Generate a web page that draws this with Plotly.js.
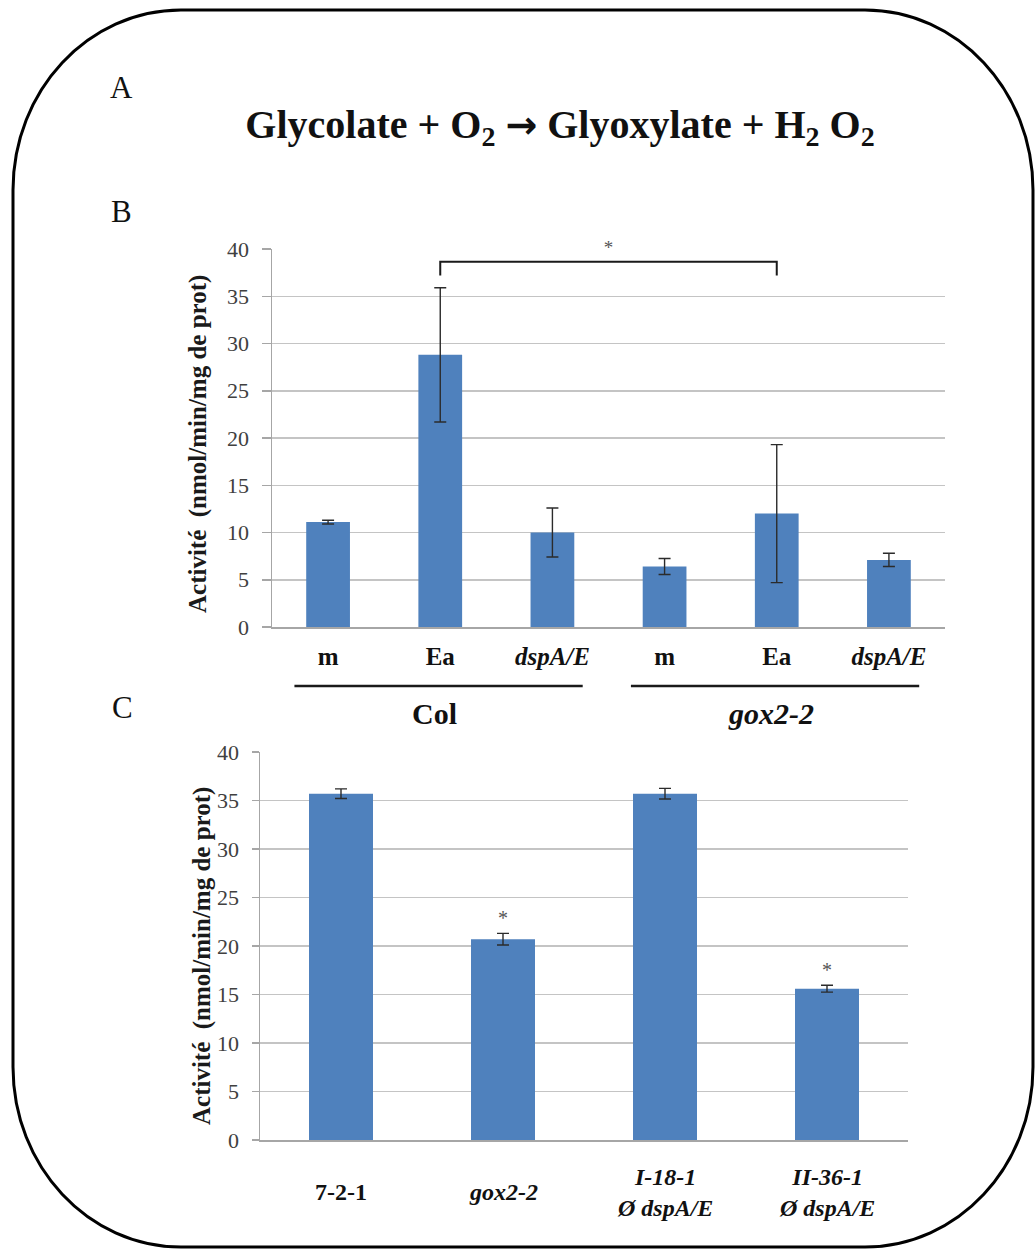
<!DOCTYPE html>
<html><head><meta charset="utf-8">
<script src="https://cdn.plot.ly/plotly-3.0.1.min.js"></script>
<style>html,body{margin:0;padding:0;background:#fff}</style>
</head><body><div id="chart" style="width:1036px;height:1249px"></div>
<script>
// ---------- DATA ----------
// Panel B
const bCategories = ['m', 'Ea', 'dspA/E', 'm', 'Ea', 'dspA/E'];
const bTickText = ['m', 'Ea', '<i>dspA/E</i>', 'm', 'Ea', '<i>dspA/E</i>'];
const bValues = [11.1, 28.8, 10.0, 6.4, 12.0, 7.1];
const bErrors = [0.2, 7.1, 2.6, 0.85, 7.3, 0.7];
const bGroups = ['Col', '<i>gox2-2</i>'];
const bCompare = [1, 4];          // bars joined by the significance bracket
// Panel C
const cCategories = ['7-2-1', 'gox2-2', 'I-18-1 Ø dspA/E', 'II-36-1 Ø dspA/E'];
const cTickText = ['7-2-1', '<i>gox2-2</i>', '<i>I-18-1<br>Ø dspA/E</i>', '<i>II-36-1<br>Ø dspA/E</i>'];
const cValues = [35.7, 20.7, 35.7, 15.6];
const cErrors = [0.5, 0.6, 0.55, 0.35];
const cSignificant = [1, 3];
const yTicks = [0, 5, 10, 15, 20, 25, 30, 35, 40];
const yTitle = 'Activité  (nmol/min/mg de prot)';
const reaction = 'Glycolate + O<sub>2</sub> <span style="font-family:DejaVu Sans;font-weight:bold;font-size:38px">→</span> Glyoxylate + H<sub>2</sub> O<sub>2</sub>';

// ---------- HELPERS ----------
const W = 1036, H = 1249;
const px = v => v / W;
const py = v => 1 - v / H;
const SERIF = 'Liberation Serif, Times New Roman, serif';
const BLUE = '#4f81bd';
const bIdx = bCategories.map((_, i) => i);
const cIdx = cCategories.map((_, i) => i);

// rounded frame
function framePath() {
  const x0 = 13, x1 = 1033, y0 = 10, y1 = 1247, rx = 168, ry = 180, k = 0.5523;
  const P = (x, y) => px(x).toFixed(5) + ',' + py(y).toFixed(5);
  return 'M' + P(x0 + rx, y0) + ' L' + P(x1 - rx, y0) +
    ' C' + P(x1 - rx + k * rx, y0) + ' ' + P(x1, y0 + ry - k * ry) + ' ' + P(x1, y0 + ry) +
    ' L' + P(x1, y1 - ry) +
    ' C' + P(x1, y1 - ry + k * ry) + ' ' + P(x1 - rx + k * rx, y1) + ' ' + P(x1 - rx, y1) +
    ' L' + P(x0 + rx, y1) +
    ' C' + P(x0 + rx - k * rx, y1) + ' ' + P(x0, y1 - ry + k * ry) + ' ' + P(x0, y1 - ry) +
    ' L' + P(x0, y0 + ry) +
    ' C' + P(x0, y0 + ry - k * ry) + ' ' + P(x0 + rx - k * rx, y0) + ' ' + P(x0 + rx, y0) + ' Z';
}

const errStyle = { type: 'data', visible: true, color: '#2b2b2b', thickness: 1.4, width: 6 };

const traces = [
  {
    type: 'bar', x: bIdx, y: bValues, xaxis: 'x', yaxis: 'y',
    marker: { color: BLUE, line: { width: 0 } }, width: 0.39,
    error_y: Object.assign({ array: bErrors }, errStyle), hoverinfo: 'skip'
  },
  {
    type: 'scatter', mode: 'lines', xaxis: 'x', yaxis: 'y',
    x: [bCompare[0], bCompare[0], bCompare[1], bCompare[1]],
    y: [37.2, 38.65, 38.65, 37.2],
    line: { color: '#1a1a1a', width: 2 }, hoverinfo: 'skip'
  },
  {
    type: 'scatter', mode: 'text', xaxis: 'x', yaxis: 'y',
    x: [(bCompare[0] + bCompare[1]) / 2], y: [39.97], text: ['*'],
    textfont: { family: SERIF, size: 19, color: '#555' }, cliponaxis: false, hoverinfo: 'skip'
  },
  {
    type: 'bar', x: cIdx, y: cValues, xaxis: 'x2', yaxis: 'y2',
    marker: { color: BLUE, line: { width: 0 } }, width: 0.395,
    error_y: Object.assign({ array: cErrors }, errStyle), hoverinfo: 'skip'
  },
  {
    type: 'scatter', mode: 'text', xaxis: 'x2', yaxis: 'y2',
    x: cSignificant, y: cSignificant.map(i => cValues[i] + cErrors[i] + 1.4),
    text: cSignificant.map(() => '*'),
    textfont: { family: SERIF, size: 20, color: '#555' }, cliponaxis: false, hoverinfo: 'skip'
  }
];

const yAxisBase = {
  range: [0, 40], tickvals: yTicks, showgrid: true, gridcolor: '#c4c4c4', gridwidth: 1.5,
  showline: true, linecolor: '#a6a6a6', linewidth: 1.5, ticks: 'outside', ticklen: 9,
  tickcolor: '#a6a6a6', tickwidth: 1.5, zeroline: false, ticklabelstandoff: 8,
  tickfont: { family: SERIF, size: 22, color: '#404040' }, fixedrange: true
};
const xAxisBase = {
  showline: true, linecolor: '#a6a6a6', linewidth: 2, ticks: '', showgrid: false,
  zeroline: false, fixedrange: true
};

const annotations = [
  { text: 'A', x: px(121), y: py(88) },
  { text: 'B', x: px(121), y: py(211) },
  { text: 'C', x: px(122), y: py(708) }
].map(a => Object.assign(a, {
  xref: 'paper', yref: 'paper', xanchor: 'center', yanchor: 'middle', showarrow: false,
  font: { family: SERIF, size: 31, color: '#111' }
}));

// y axis titles
[[198, 444], [202, 956]].forEach(([x, y]) => annotations.push({
  text: yTitle, xref: 'paper', yref: 'paper', x: px(x), y: py(y), textangle: -90,
  xanchor: 'center', yanchor: 'middle', showarrow: false,
  font: { family: SERIF, size: 25, weight: 'bold', color: '#1a1a1a' }
}));

// group labels for panel B
bGroups.forEach((g, gi) => annotations.push({
  text: g, xref: 'x', yref: 'paper', x: gi * 3 + 0.95, y: py(713),
  xanchor: 'center', yanchor: 'middle', showarrow: false,
  font: { family: SERIF, size: 30, weight: 'bold', color: '#111' }
}));

// tick labels for panel C (vertically centred, as in the figure)
cTickText.forEach((t, i) => annotations.push({
  text: t, xref: 'x2', yref: 'paper', x: i, y: py(1192),
  xanchor: 'center', yanchor: 'middle', showarrow: false,
  font: { family: SERIF, size: 24, weight: 'bold', color: '#111' }
}));

const shapes = [
  { type: 'path', xref: 'paper', yref: 'paper', path: framePath(), line: { color: '#000', width: 3 }, layer: 'above' }
];
bGroups.forEach((g, gi) => shapes.push({
  type: 'line', xref: 'x', yref: 'paper', x0: gi * 3 - 0.3, x1: gi * 3 + 2.27, y0: py(686), y1: py(686),
  line: { color: '#1a1a1a', width: 2.5 }
}));

const layout = {
  width: W, height: H, margin: { l: 0, r: 0, t: 0, b: 0 },
  paper_bgcolor: '#fff', plot_bgcolor: 'rgba(0,0,0,0)', showlegend: false,
  title: {
    text: reaction, x: px(560), y: py(124), xref: 'paper', yref: 'paper',
    xanchor: 'center', yanchor: 'middle',
    font: { family: SERIF, size: 40, weight: 'bold', color: '#111' }
  },
  xaxis: Object.assign({}, xAxisBase, {
    domain: [px(272), px(945)], range: [-0.5, 5.5], anchor: 'y',
    tickvals: bIdx, ticktext: bTickText, ticklabelstandoff: 6,
    tickfont: { family: SERIF, size: 25, weight: 'bold', color: '#111' }
  }),
  yaxis: Object.assign({}, yAxisBase, { domain: [py(627), py(249)], anchor: 'x' }),
  xaxis2: Object.assign({}, xAxisBase, {
    domain: [px(260), px(908)], range: [-0.5, 3.5], anchor: 'y2', showticklabels: false
  }),
  yaxis2: Object.assign({}, yAxisBase, { domain: [py(1140), py(752)], anchor: 'x2', ticklen: 7 }),
  annotations: annotations,
  shapes: shapes
};

Plotly.newPlot('chart', traces, layout, { displayModeBar: false, staticPlot: true });
</script>
</body></html>
